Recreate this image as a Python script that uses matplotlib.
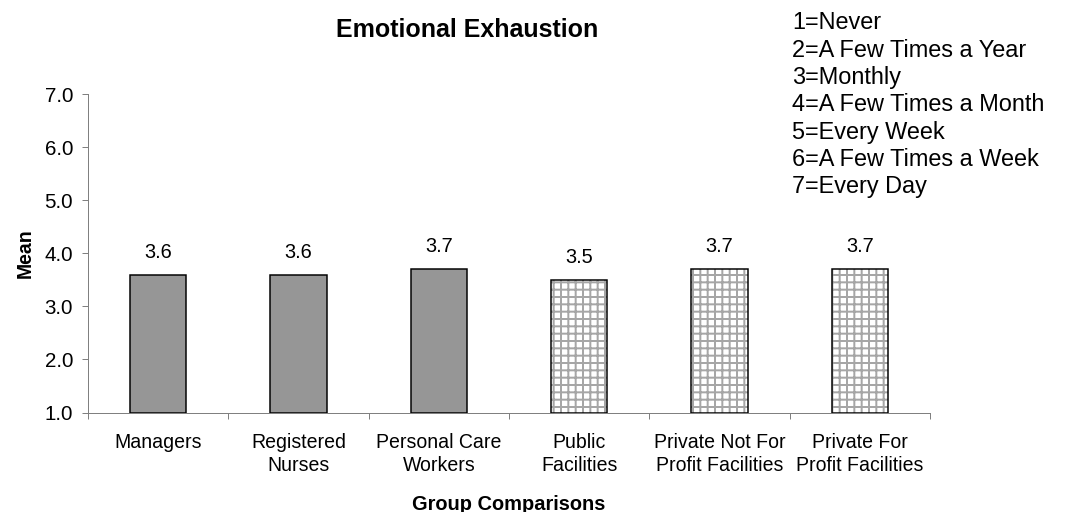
import numpy as np
import matplotlib
matplotlib.use("Agg")
import matplotlib.pyplot as plt

DPI = 88
W, H = 1067, 512


def pt(px):
    # pixel size -> points at the figure dpi
    return px * 72.0 / DPI


groups = ["Managers", "Registered\nNurses", "Personal Care\nWorkers",
          "Public\nFacilities", "Private Not For\nProfit Facilities",
          "Private For\nProfit Facilities"]
means = [3.6, 3.6, 3.7, 3.5, 3.7, 3.7]
hatched = [False, False, False, True, True, True]
scale_text = ["1=Never", "2=A Few Times a Year", "3=Monthly",
              "4=A Few Times a Month", "5=Every Week",
              "6=A Few Times a Week", "7=Every Day"]
yticks = [1.0, 2.0, 3.0, 4.0, 5.0, 6.0, 7.0]

plt.rcParams["font.family"] = ["Liberation Sans", "DejaVu Sans"]
plt.rcParams["hatch.linewidth"] = pt(2)

fig = plt.figure(figsize=(W / DPI, H / DPI), dpi=DPI)
ax = fig.add_axes([88 / W, 1 - 412.5 / H, (930 - 88) / W, (412.5 - 94.3) / H])

x = np.arange(len(groups))
for xi, m, h in zip(x, means, hatched):
    if h:
        ax.bar(xi, m - 1, bottom=1, width=0.4, color="white",
               edgecolor="#a6a6a6", hatch="++", linewidth=0, zorder=2)
        ax.bar(xi, m - 1, bottom=1, width=0.4, fill=False,
               edgecolor="black", linewidth=pt(1.5), zorder=3)
    else:
        ax.bar(xi, m - 1, bottom=1, width=0.4, color="#969696",
               edgecolor="black", linewidth=pt(1.5), zorder=3)
    ax.annotate(f"{m:.1f}", (xi, m), xytext=(0, pt(13)),
                textcoords="offset points", ha="center", va="bottom",
                fontsize=pt(20))

ax.set_xlim(-0.5, len(groups) - 0.5)
ax.set_ylim(1, 7)
ax.set_yticks(yticks)
ax.set_yticklabels([f"{v:.1f}" for v in yticks])
ax.set_xticks(x)
ax.set_xticklabels(groups, linespacing=1.3)
ax.set_xticks(np.arange(len(groups) + 1) - 0.5, minor=True)

ax.tick_params(axis="x", which="major", length=0, pad=pt(20), labelsize=pt(19.5))
ax.tick_params(axis="x", which="minor", length=pt(6), width=pt(1),
               color="#808080", direction="out")
ax.tick_params(axis="y", length=pt(6), width=pt(1), color="#808080",
               pad=pt(9), labelsize=pt(20.5))

for s in ["top", "right"]:
    ax.spines[s].set_visible(False)
for s in ["left", "bottom"]:
    ax.spines[s].set_color("#808080")
    ax.spines[s].set_linewidth(pt(1))

fig.text(467.5 / W, 1 - 30 / H, "Emotional Exhaustion", ha="center",
         va="center", fontsize=pt(25), fontweight="bold")
fig.text(25 / W, 1 - 253.4 / H, "Mean", ha="center", va="center",
         rotation=90, fontsize=pt(19.5), fontweight="bold")
fig.text(509 / W, 1 - 504 / H, "Group Comparisons", ha="center",
         va="center", fontsize=pt(20), fontweight="bold")

for i, line in enumerate(scale_text):
    fig.text(792 / W, 1 - (29.3 + 27.3 * i) / H, line, ha="left",
             va="baseline", fontsize=pt(23.5))

fig.savefig("out.png", dpi=DPI)
